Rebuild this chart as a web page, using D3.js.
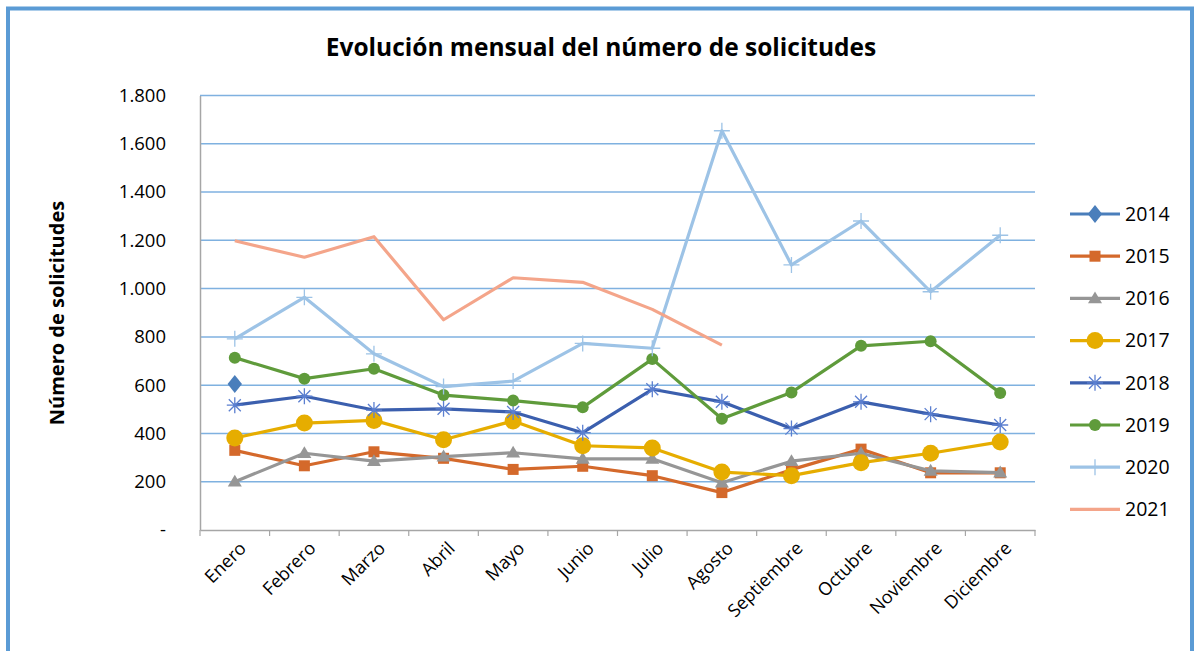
<!DOCTYPE html>
<html>
<head>
<meta charset="utf-8">
<script src="https://cdn.jsdelivr.net/npm/d3@7"></script>
<style>
  html, body { margin: 0; padding: 0; background: #fff; }
  svg { display: block; }
</style>
</head>
<body>
<svg id="chart" width="1195" height="651"></svg>
<script>
const months = ["Enero","Febrero","Marzo","Abril","Mayo","Junio","Julio","Agosto","Septiembre","Octubre","Noviembre","Diciembre"];
const yTicks = [0, 200, 400, 600, 800, 1000, 1200, 1400, 1600, 1800];

const s2014 = [605, null, null, null, null, null, null, null, null, null, null, null];
const s2015 = [330, 266, 324, 297, 251, 264, 225, 155, 250, 335, 237, 237];
const s2016 = [200, 318, 285, 304, 320, 295, 295, 196, 285, 318, 245, 238];
const s2017 = [381, 443, 454, 374, 452, 349, 340, 240, 225, 279, 318, 365];
const s2018 = [517, 554, 497, 502, 489, 403, 583, 531, 420, 531, 480, 435];
const s2019 = [714, 627, 668, 559, 536, 508, 708, 461, 570, 763, 782, 568];
const s2020 = [792, 964, 730, 594, 617, 773, 753, 1654, 1098, 1280, 987, 1221];
const s2021 = [1198, 1130, 1215, 871, 1045, 1026, 914, 766, null, null, null, null];

const seriesNames = ["2014","2015","2016","2017","2018","2019","2020","2021"];
const seriesValues = [s2014, s2015, s2016, s2017, s2018, s2019, s2020, s2021];

const style = {
  "2014": {color: "#4a7ebb", marker: "diamond", size: 9},
  "2015": {color: "#d4692b", marker: "square", size: 11},
  "2016": {color: "#969696", marker: "triangle", size: 12},
  "2017": {color: "#e6ad00", marker: "circle", size: 8.5},
  "2018": {color: "#3b5fae", marker: "star", size: 8},
  "2019": {color: "#5f9b3b", marker: "circle", size: 6},
  "2020": {color: "#9dc3e6", marker: "plus", size: 8},
  "2021": {color: "#f4a58a", marker: "none", size: 0}
};

const svg = d3.select("#chart");
const font = "'Open Sans', 'Noto Sans', sans-serif";

// outer frame
svg.append("rect").attr("x", 8).attr("y", 8.5).attr("width", 1184).attr("height", 660)
  .attr("fill", "#fff").attr("stroke", "#5b9bd5").attr("stroke-width", 4);
svg.append("line").attr("x1", 1193).attr("x2", 1193).attr("y1", 8).attr("y2", 651)
  .attr("stroke", "#5b9bd5").attr("stroke-width", 2);

const plotL = 200, plotR = 1035, plotT = 95.5, plotB = 530;
const x = d3.scaleBand().domain(months).range([plotL, plotR]);
const y = d3.scaleLinear().domain([0, 1800]).range([plotB, plotT]);

// title
svg.append("text").attr("x", 601).attr("y", 56).attr("text-anchor", "middle")
  .style("font-family", font).style("font-weight", "bold").style("font-size", "24.5px")
  .attr("fill", "#000").text("Evolución mensual del número de solicitudes");

// gridlines
svg.append("g").selectAll("line").data(yTicks.filter(d => d > 0)).join("line")
  .attr("x1", plotL).attr("x2", plotR).attr("y1", d => y(d)).attr("y2", d => y(d))
  .attr("stroke", "#7fb1e0").attr("stroke-width", 1.5);

// y axis
const yAxis = d3.axisLeft(y).tickValues(yTicks).tickSize(0).tickPadding(34)
  .tickFormat(d => d === 0 ? "-" : d3.format(",")(d).replace(/,/g, "."));
const gy = svg.append("g").attr("transform", `translate(${plotL},0)`).call(yAxis);
gy.select(".domain").attr("stroke", "#a6a6a6").attr("stroke-width", 1.5);
gy.selectAll("text").style("font-family", font).style("font-size", "18.5px").attr("fill", "#000");

// x axis
const xAxis = d3.axisBottom(x).tickSizeInner(0).tickSizeOuter(0);
const gx = svg.append("g").attr("transform", `translate(0,${plotB})`).call(xAxis);
gx.select(".domain").attr("stroke", "#a6a6a6").attr("stroke-width", 1.5);
gx.selectAll(".tick text").remove();
const bounds = months.map(m => x(m)).concat([plotR]);
gx.selectAll("line.bt").data(bounds).join("line").attr("class", "bt")
  .attr("x1", d => d).attr("x2", d => d).attr("y1", 0).attr("y2", 6)
  .attr("stroke", "#a6a6a6").attr("stroke-width", 1.2);
gx.selectAll("text.lbl").data(months).join("text").attr("class", "lbl")
  .attr("transform", d => `translate(${x(d) + x.bandwidth() / 2 + 8},${15}) rotate(-45)`)
  .attr("text-anchor", "end").attr("dy", "0.35em")
  .style("font-family", font).style("font-size", "18px").attr("fill", "#000")
  .text(d => d);

// y axis title
svg.append("text").attr("transform", `translate(64,313) rotate(-90)`).attr("text-anchor", "middle")
  .style("font-family", font).style("font-weight", "bold").style("font-size", "20px")
  .attr("fill", "#000").text("Número de solicitudes");

function drawMarker(g, type, cx, cy, s, color) {
  if (type === "circle") {
    g.append("circle").attr("cx", cx).attr("cy", cy).attr("r", s).attr("fill", color);
  } else if (type === "square") {
    g.append("rect").attr("x", cx - s / 2).attr("y", cy - s / 2).attr("width", s).attr("height", s).attr("fill", color);
  } else if (type === "diamond") {
    g.append("path").attr("d", `M${cx},${cy - s}L${cx + s * 0.8},${cy}L${cx},${cy + s}L${cx - s * 0.8},${cy}Z`).attr("fill", color);
  } else if (type === "triangle") {
    const h = s * 0.9;
    g.append("path").attr("d", `M${cx},${cy - h * 0.65}L${cx + s / 2 + 1},${cy + h * 0.45}L${cx - s / 2 - 1},${cy + h * 0.45}Z`).attr("fill", color);
  } else if (type === "star") {
    const a = s * 0.75;
    g.append("path").attr("d",
      `M${cx - s},${cy}L${cx + s},${cy}M${cx - a},${cy - a}L${cx + a},${cy + a}M${cx - a},${cy + a}L${cx + a},${cy - a}M${cx},${cy - s}L${cx},${cy + s}`)
      .attr("stroke", "#5b7fd0").attr("stroke-width", 1.3).attr("fill", "none");
  } else if (type === "plus") {
    g.append("path").attr("d", `M${cx - s},${cy}L${cx + s},${cy}M${cx},${cy - s}L${cx},${cy + s}`)
      .attr("stroke", color).attr("stroke-width", 1.3).attr("fill", "none");
  }
}

const line = d3.line().defined(d => d.v !== null).x(d => x(d.m) + x.bandwidth() / 2).y(d => y(d.v));

seriesNames.forEach((name, i) => {
  const st = style[name];
  const data = months.map((m, j) => ({m, v: seriesValues[i][j]}));
  const g = svg.append("g");
  g.append("path").datum(data).attr("d", line).attr("fill", "none")
    .attr("stroke", st.color).attr("stroke-width", 3.2).attr("stroke-linejoin", "round");
  data.filter(d => d.v !== null).forEach(d => {
    drawMarker(g, st.marker, x(d.m) + x.bandwidth() / 2, y(d.v), st.size, st.color);
  });
});

// legend
const lg = svg.append("g");
seriesNames.forEach((name, i) => {
  const st = style[name];
  const ly = 214 + i * 42.2;
  lg.append("line").attr("x1", 1070).attr("x2", 1120).attr("y1", ly).attr("y2", ly)
    .attr("stroke", st.color).attr("stroke-width", 3.2);
  drawMarker(lg, st.marker, 1095, ly, st.size, st.color);
  lg.append("text").attr("x", 1125).attr("y", ly).attr("dy", "0.35em")
    .style("font-family", font).style("font-size", "19.5px").attr("fill", "#000").text(name);
});
</script>
</body>
</html>
